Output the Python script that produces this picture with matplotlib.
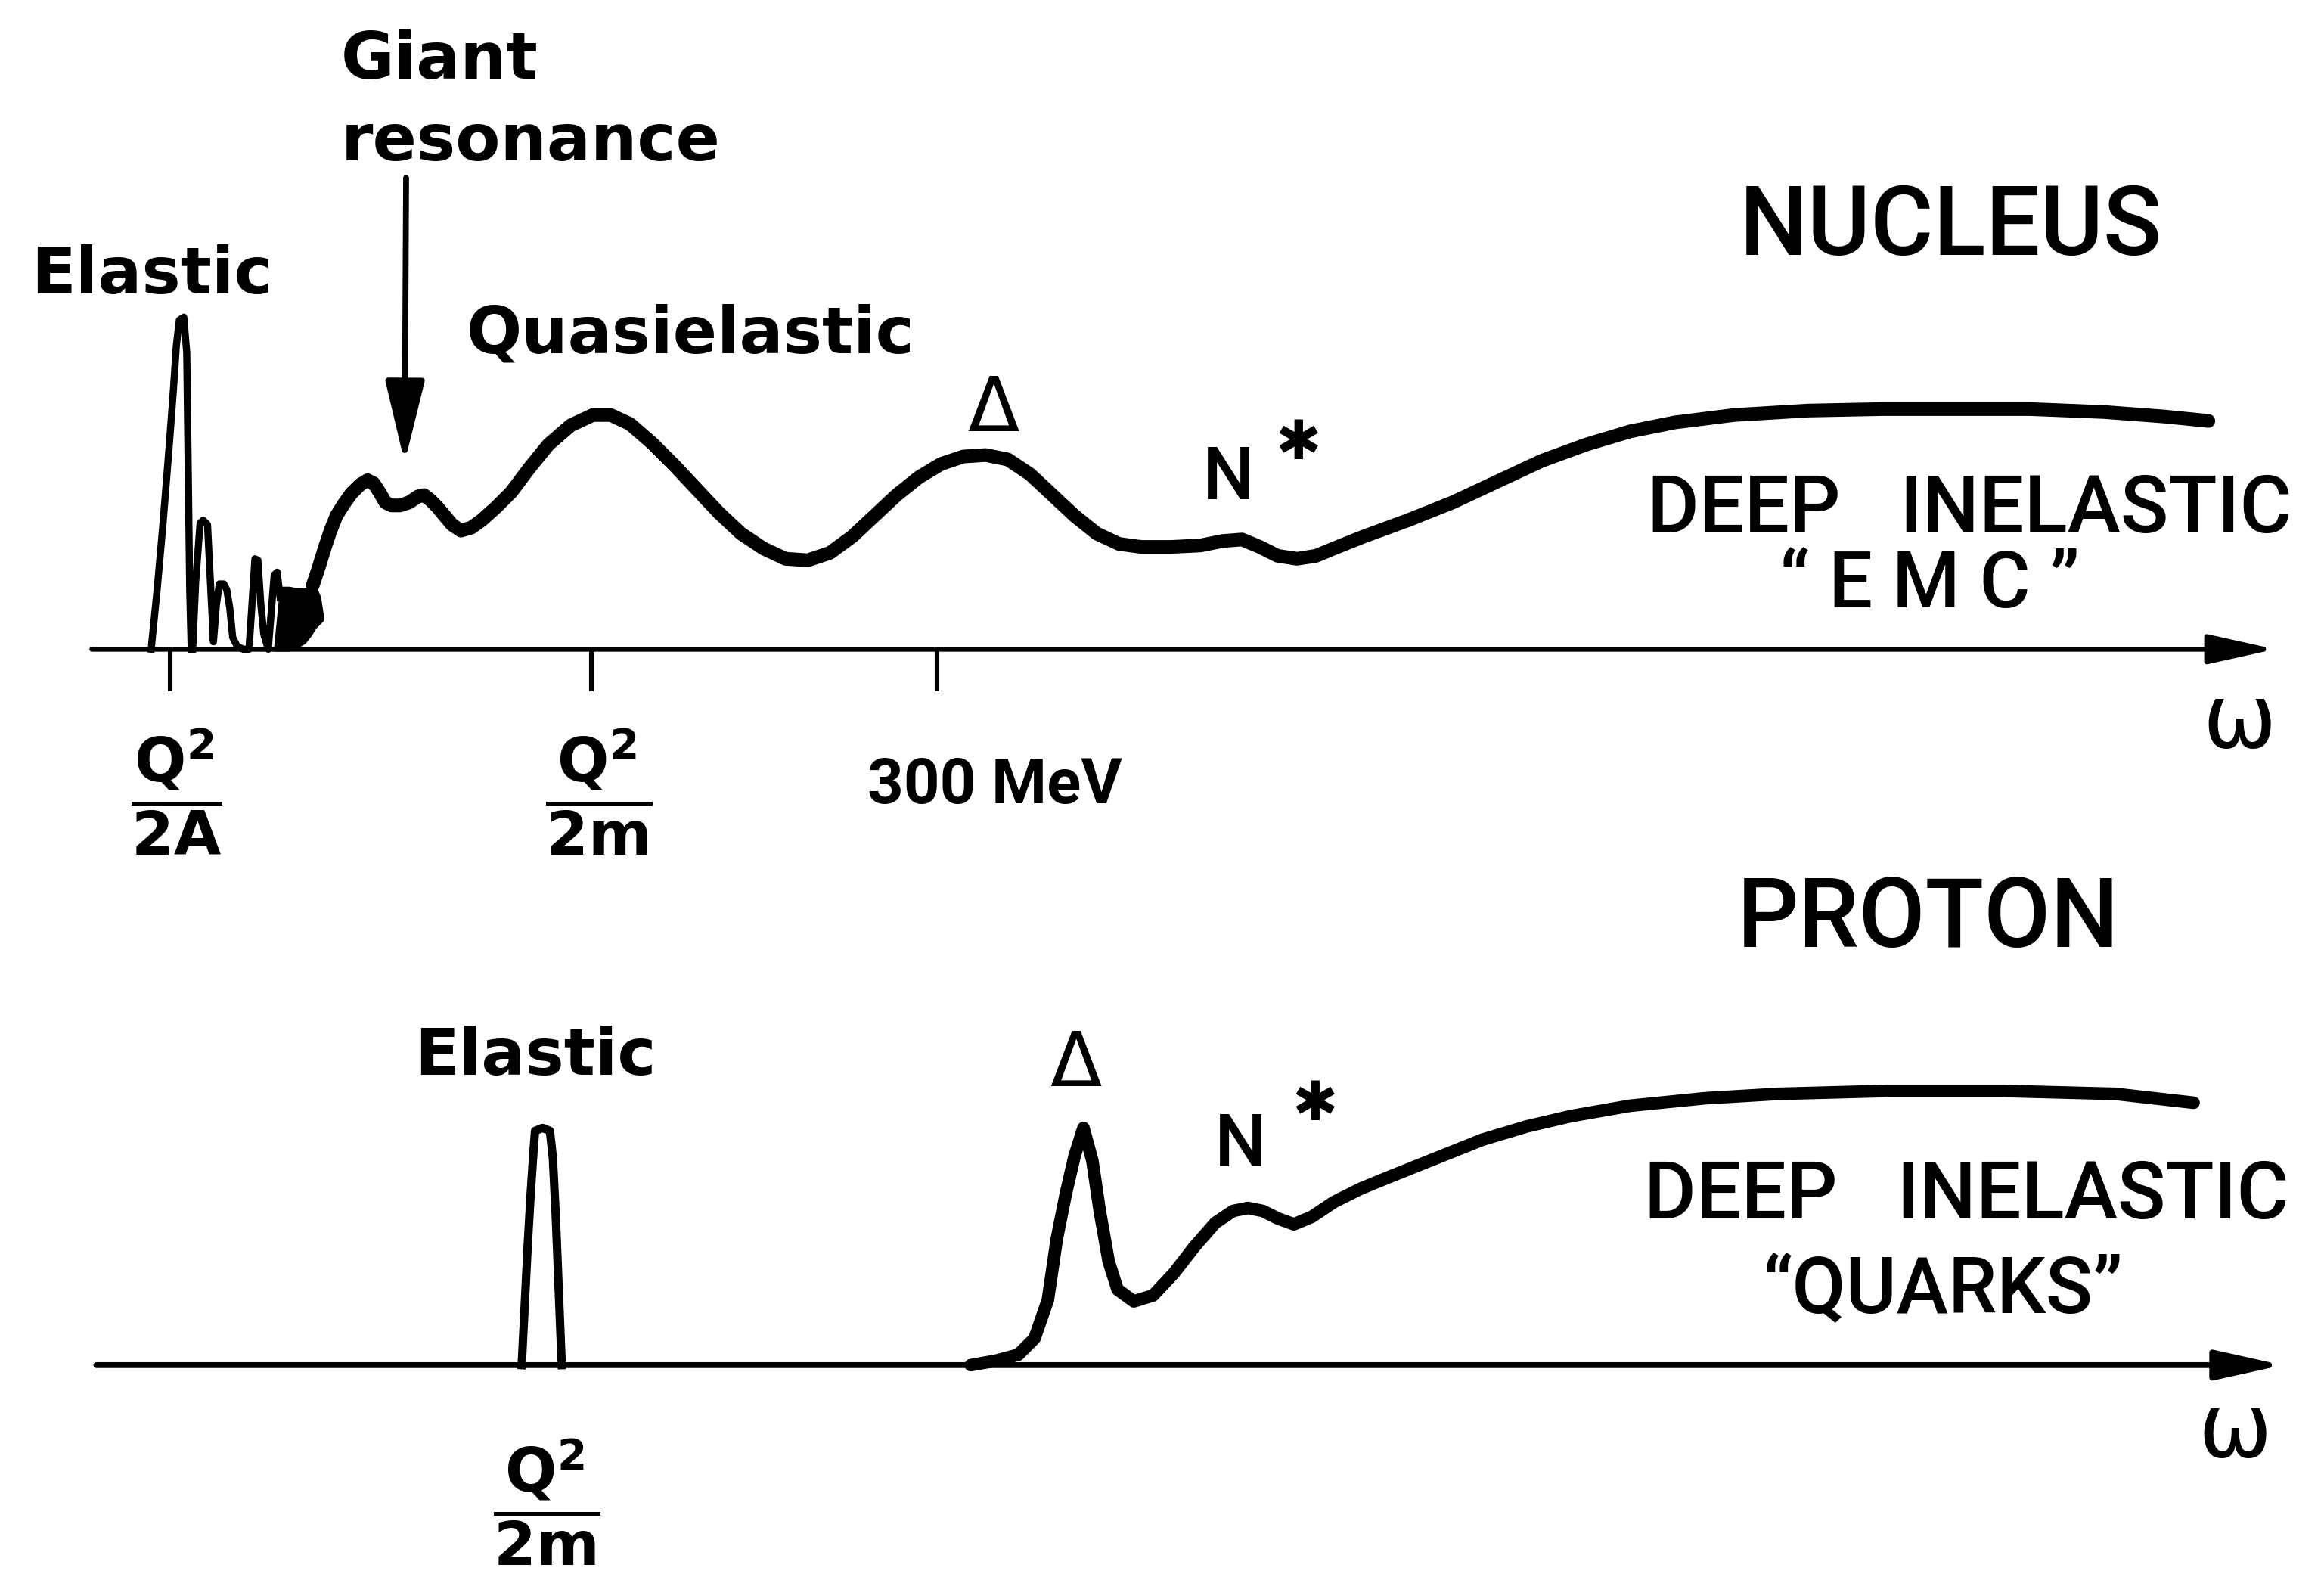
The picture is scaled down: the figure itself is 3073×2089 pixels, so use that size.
import matplotlib.pyplot as plt

plt.rcParams['mathtext.fontset'] = 'dejavusans'

# picture frame in reference units (1568 x 1066), 1 unit = 1 ref px
W, H = 1568, 1066

# ---- NUCLEUS panel: x position, height above the omega axis ----
nuc_base = 438
nuc_elastic_x = [102, 106, 110, 114, 117, 119, 121, 124, 126, 127, 128, 129]
nuc_elastic_h = [0, 40, 85, 135, 175, 205, 222, 224, 200, 120, 40, 0]

nuc_spikes_x = [130, 132, 135, 137, 140, 142, 144, 146, 148, 151, 153, 155, 157,
                160, 164, 168, 170, 172, 174, 176, 178, 181, 183, 185, 187, 189]
nuc_spikes_h = [0, 45, 85, 87, 84, 45, 5, 30, 44, 44, 40, 28, 8,
                2, 0, 0, 30, 61, 60, 30, 10, 0, 25, 50, 52, 35]

nuc_blob_x = [186, 190, 195, 200, 205, 209, 212, 215, 217]
nuc_blob_top = [0, 41, 41, 40, 40, 41, 42, 35, 22]
nuc_blob_bot = [0, 0, 0, 2, 5, 10, 15, 18, 20]

nuc_curve_x = [211, 215, 219, 223, 227, 232, 237, 243, 248, 252, 256, 260, 264, 270,
               276, 282, 286, 290, 295, 300, 305, 311, 318, 325, 335, 345, 357, 370,
               385, 400, 412, 425, 440, 455, 470, 485, 500, 515, 530, 545, 560, 575,
               590, 605, 620, 635, 650, 665, 680, 695, 710, 725, 740, 755, 770, 790,
               810, 825, 838, 850, 862, 875, 888, 900, 920, 950, 980, 1010, 1040,
               1070, 1100, 1130, 1170, 1220, 1270, 1320, 1370, 1420, 1460, 1490]
nuc_curve_h = [43, 55, 68, 80, 90, 98, 105, 111, 114, 112, 106, 99, 97, 97,
               99, 103, 104, 101, 96, 90, 84, 80, 82, 87, 96, 106, 122, 138,
               151, 158, 158, 152, 139, 124, 108, 92, 78, 68, 61, 60, 65, 76,
               90, 104, 116, 125, 130, 131, 128, 118, 104, 90, 78, 71, 69, 69,
               70, 73, 74, 69, 63, 61, 63, 68, 76, 87, 99, 113, 127,
               138, 147, 153, 158, 161, 162, 162, 162, 160, 157, 154]

nuc_ticks = [115, 399, 632]

# ---- PROTON panel ----
prot_base = 921
prot_elastic_x = [352, 354, 356, 358, 360, 361, 366, 371, 373, 375, 377, 379]
prot_elastic_h = [0, 40, 80, 115, 145, 158, 160, 158, 140, 100, 50, 0]

prot_curve_x = [655, 672, 687, 698, 707, 713, 719, 725, 731, 737, 742, 748, 754,
                765, 778, 792, 806, 820, 832, 842, 852, 862, 873, 885, 900, 918,
                940, 970, 1000, 1030, 1060, 1100, 1150, 1200, 1275, 1350, 1427, 1480]
prot_curve_h = [0, 3, 7, 18, 44, 85, 115, 141, 160, 138, 104, 70, 51,
                43, 47, 62, 80, 96, 104, 106, 104, 99, 95, 100, 110, 119,
                128, 140, 152, 161, 168, 175, 180, 183, 185, 185, 183, 177]

fig = plt.figure(figsize=(3073 / 200, 2089 / 200), dpi=200)
ax1 = fig.add_axes([0, 1 - 600 / H, 1, 600 / H])
ax1.set_xlim(0, W)
ax1.set_ylim(-(600 - nuc_base), nuc_base)
ax2 = fig.add_axes([0, 0, 1, (H - 560) / H])
ax2.set_xlim(0, W)
ax2.set_ylim(-(H - prot_base), prot_base - 560)
for ax in (ax1, ax2):
    ax.patch.set_alpha(0)
    for s in ax.spines.values():
        s.set_visible(False)
    ax.set_yticks([])

# nucleus curves
ax1.plot(nuc_elastic_x, nuc_elastic_h, color='k', lw=3.4, solid_joinstyle='round')
ax1.plot(nuc_spikes_x, nuc_spikes_h, color='k', lw=3.4, solid_joinstyle='round')
ax1.fill_between(nuc_blob_x, nuc_blob_bot, nuc_blob_top, color='k', lw=2)
ax1.plot(nuc_curve_x, nuc_curve_h, color='k', lw=6.5, solid_joinstyle='round',
         solid_capstyle='round')

# omega axes with arrow heads
arrow = dict(arrowstyle='-|>,head_length=2.7,head_width=0.6', color='k',
             mutation_scale=10, shrinkA=0, shrinkB=0)
ax1.annotate('', xy=(1535, 0), xytext=(62, 0), arrowprops=dict(arrow, lw=2.4))
ax2.annotate('', xy=(1540, 0), xytext=(65, 0), arrowprops=dict(arrow, lw=2.8))

# ticks below the nucleus axis
ax1.spines['bottom'].set_position(('data', 0))
ax1.set_xticks(nuc_ticks)
ax1.set_xticklabels([])
ax1.tick_params(axis='x', direction='out', length=20, width=2.2, color='k')
ax2.set_xticks([])

# giant resonance arrow
ax1.annotate('', xy=(273, nuc_base - 312), xytext=(274, nuc_base - 120),
             arrowprops=dict(arrowstyle='-|>,head_length=3.3,head_width=0.8',
                             color='k', lw=2.8, mutation_scale=10,
                             shrinkA=0, shrinkB=0))

# proton curves
ax2.plot(prot_elastic_x, prot_elastic_h, color='k', lw=4, solid_joinstyle='round')
ax2.plot(prot_curve_x, prot_curve_h, color='k', lw=6, solid_joinstyle='round',
         solid_capstyle='round')

bold = dict(family='DejaVu Sans', weight='bold', size=31, va='baseline')
caps = dict(family='Roboto', weight='medium', va='baseline', ha='center')


def t1(x, y, s, **kw):
    ax1.text(x, nuc_base - y, s, **kw)


def t2(x, y, s, **kw):
    ax2.text(x, prot_base - y, s, **kw)


# nucleus labels
t1(102.5, 198, 'Elastic', ha='center', **bold)
t1(230, 53, 'Giant', ha='left', **bold)
t1(230, 108, 'resonance', ha='left', **bold)
t1(466, 238, 'Quasielastic', ha='center', **bold)
t1(670, 291, 'Δ', ha='center', va='baseline', size=36, family='DejaVu Sans')
t1(829, 337, 'N', size=35, **caps)
t1(876, 300, '✱', ha='center', va='center', size=26, family='DejaVu Sans')
t1(1316, 172, 'NUCLEUS', size=46, **caps)
t1(1329, 359, 'DEEP   INELASTIC', size=38, **caps)
t1(1302, 410, '“ E M C ”', size=37, **caps)
t1(1511, 504, 'ω', ha='center', va='baseline', size=42, family='DejaVu Sans')
t1(119, 534, r'$\dfrac{\mathbf{Q}^{\mathbf{2}}}{\mathbf{2A}}$', ha='center',
   va='center', size=29)
t1(404, 534, r'$\dfrac{\mathbf{Q}^{\mathbf{2}}}{\mathbf{2m}}$', ha='center',
   va='center', size=29)
t1(671, 542, '300 MeV', family='Roboto', weight='bold', size=30,
   ha='center', va='baseline')

# proton labels
t2(361, 725, 'Elastic', ha='center', **bold)
t2(726, 733, 'Δ', ha='center', va='baseline', size=36, family='DejaVu Sans')
t2(837, 787, 'N', size=35, **caps)
t2(887, 746, '✱', ha='center', va='center', size=26, family='DejaVu Sans')
t2(1301, 639, 'PROTON', size=46, **caps)
t2(1327, 822, 'DEEP   INELASTIC', size=38, **caps)
t2(1311, 886, '“QUARKS”', size=37, **caps)
t2(1508, 983, 'ω', ha='center', va='baseline', size=42, family='DejaVu Sans')
t2(369, 1013, r'$\dfrac{\mathbf{Q}^{\mathbf{2}}}{\mathbf{2m}}$', ha='center',
   va='center', size=29)

fig.savefig('out.png', dpi=200)
